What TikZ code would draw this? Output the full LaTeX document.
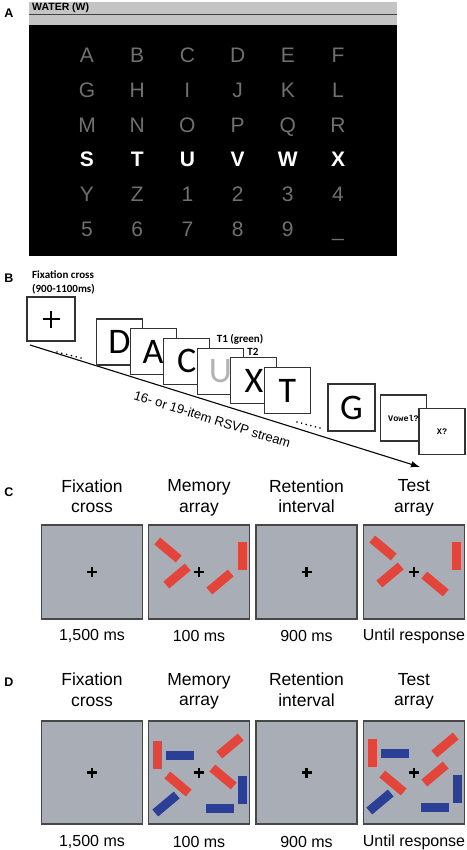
\documentclass[tikz,border=0pt]{standalone}
\usepackage{fontspec}
\setmainfont{Liberation Sans}
\newfontfamily\calfont{Carlito}
\newfontfamily\courfont{Liberation Mono}
\usetikzlibrary{arrows.meta}

\definecolor{keygray}{HTML}{707070}
\definecolor{bargray}{HTML}{C4C4C4}
\definecolor{screengray}{HTML}{A9AEB6}
\definecolor{screenline}{HTML}{474747}
\definecolor{barred}{HTML}{E4453A}
\definecolor{barblue}{HTML}{2A3F95}
\definecolor{ugray}{HTML}{B4B4B4}

\begin{document}
\begin{tikzpicture}[x=1pt, y=-1pt,
    panel/.style={font=\bfseries\fontsize{12.5}{13}\selectfont, inner sep=0pt},
    key/.style={font=\fontsize{21}{21}\selectfont, text=keygray, anchor=base, inner sep=0pt},
    keyon/.style={key, font=\bfseries\fontsize{21}{21}\selectfont, text=white},
    note/.style={font=\calfont\bfseries\fontsize{11}{11}\selectfont, inner sep=0pt},
    card/.style={draw=black!80, line width=1.1pt, fill=white, minimum size=46pt, inner sep=0pt, font=\calfont\fontsize{36}{36}\selectfont},
    screen/.style={draw=screenline, line width=1.3pt, fill=screengray, minimum width=101pt, inner sep=0pt},
    bar/.style={minimum width=28pt, minimum height=9pt, inner sep=0pt},
    fixmark/.style={line width=2.3pt},
    head/.style={font=\fontsize{17.5}{20.5}\selectfont, align=center, text depth=4pt},
    time/.style={font=\fontsize{16}{17}\selectfont}]
            \useasboundingbox (0,0) rectangle (466,850);

            % Panel A: the letter board
            \node[panel] (la) at (9,13) {A};
            \fill[bargray] (29,2) rectangle (397,25);
            \draw[black!75, line width=0.9pt] (29,14) -- (397,14);
            \node[panel, font=\bfseries\fontsize{10.5}{11}\selectfont, anchor=west] (word) at (32,8) {WATER (W)};
            \fill[black] (29,25) rectangle (397,256);
            \foreach \k [count=\i from 0] in {A,B,C,D,E,F,G,H,I,J,K,L,M,N,O,P,Q,R,S,T,U,V,W,X,Y,Z,1,2,3,4,5,6,7,8,9,\_} {
                \pgfmathtruncatemacro{\row}{div(\i,6)}
                \pgfmathtruncatemacro{\col}{mod(\i,6)}
                \ifnum\row=3
                \node[keyon] (k\i) at (87+50.2*\col, 62.5+34.8*\row) {\k};
                \else
                \node[key] (k\i) at (87+50.2*\col, 62.5+34.8*\row) {\k};
                \fi
            }

            % Panel B: the RSVP stream
            \node[panel] (lb) at (9,278) {B};
            \node[note, anchor=west] (fixtxt) at (32,275) {Fixation cross};
            \node[note, anchor=west] (fixms) at (32,289) {(900-1100ms)};
            \coordinate (s0) at (30,345);
            \coordinate (s1) at (420,467);
            \draw[line width=1.1pt, -{Latex[length=9pt,width=6.5pt]}] (s0) -- (s1)
                node[pos=0.48, sloped, below=11pt, inner sep=0pt, font=\fontsize{13}{13}\selectfont] (rsvp) {16- or 19-item RSVP stream};
            \foreach \t in {0,...,5} {
                \fill (57+4.8*\t, 352+1.2*\t) circle (0.9pt);
                \fill (297+4.6*\t, 422+1.2*\t) circle (0.9pt);
            }
            \node[card, minimum width=48pt, minimum height=44pt] (fix) at (51,319) {};
            \draw[line width=2.6pt] ([xshift=-8.5pt]fix.center) -- ([xshift=8.5pt]fix.center);
            \draw[line width=2.6pt] ([yshift=-8.5pt]fix.center) -- ([yshift=8.5pt]fix.center);
            \foreach \n/\c [count=\i from 0] in {D/black, A/black, C/black, U/ugray, X/black, T/black} {
                \node[card, text=\c] (c\n) at (119.5+33.6*\i, 342+9.7*\i) {\n};
            }
            \node[card, minimum size=47pt] (cG) at (351.5,407.5) {G};
            \node[card, font=\courfont\bfseries\fontsize{8.5}{9}\selectfont] (cvowel) at (403.5,418) {Vowel?};
            \node[card, font=\courfont\bfseries\fontsize{8.5}{9}\selectfont] (cprobe) at (442,431.5) {X?};
            \node[note] (t1) at (240,339) {T1 (green)};
            \node[note] (t2) at (253,351.5) {T2};

            % Panels C and D: the four screens
            \node[panel] (lc) at (9,492) {C};
            \node[panel] (ld) at (9,682) {D};
            \foreach \q/\hy/\sy/\sh/\ty in {c/498/572/94/636, d/691.5/772.5/103/842} {
                \foreach \h/\t/\x [count=\i] in {Fixation\\cross/{1,500 ms}/92, Memory\\array/{100 ms}/199, Retention\\interval/{900 ms}/306.5, Test\\array/{Until response}/414} {
                    \node[head] (h\q\i) at (\x,\hy) {\h};
                    \node[screen, minimum height=\sh pt] (s\q\i) at (\x,\sy) {};
                    \draw[fixmark] ([xshift=-5pt]s\q\i.center) -- ([xshift=5pt]s\q\i.center);
                    \draw[fixmark] ([yshift=-5pt]s\q\i.center) -- ([yshift=5pt]s\q\i.center);
                    \node[time] (t\q\i) at (\x,\ty) {\t};
                }
            }

            % Bars
            \foreach \s/\dx/\dy/\a/\c [count=\j] in {
                sc2/-31/-22/-40/barred, sc2/-22/4/40/barred, sc2/21/10/40/barred, sc2/43/-16/90/barred,
                sc4/-31/-24/-40/barred, sc4/-24/3/40/barred, sc4/21/12/-40/barred, sc4/42/-16/90/barred,
                sd2/-41.5/-17.5/90/barred, sd2/-19.5/-17.5/0/barblue, sd2/-21/11.5/-40/barred, sd2/-33/31.5/40/barblue,
                sd2/31/-26.5/40/barred, sd2/24/4.5/-40/barred, sd2/43.5/17.5/90/barblue, sd2/20.5/35.5/0/barblue,
                sd4/-42/-19.5/90/barred, sd4/-19.5/-19/0/barblue, sd4/-21/10.5/-40/barred, sd4/-34/29.5/40/barblue,
                sd4/31/-27.5/40/barred, sd4/21/1.5/40/barred, sd4/43/16.5/90/barblue, sd4/21/35/0/barblue} {
                \node[bar, fill=\c, rotate=\a] (bar\j) at ([shift={(\dx,\dy)}]\s.center) {};
            }
        \end{tikzpicture}
\end{document}
